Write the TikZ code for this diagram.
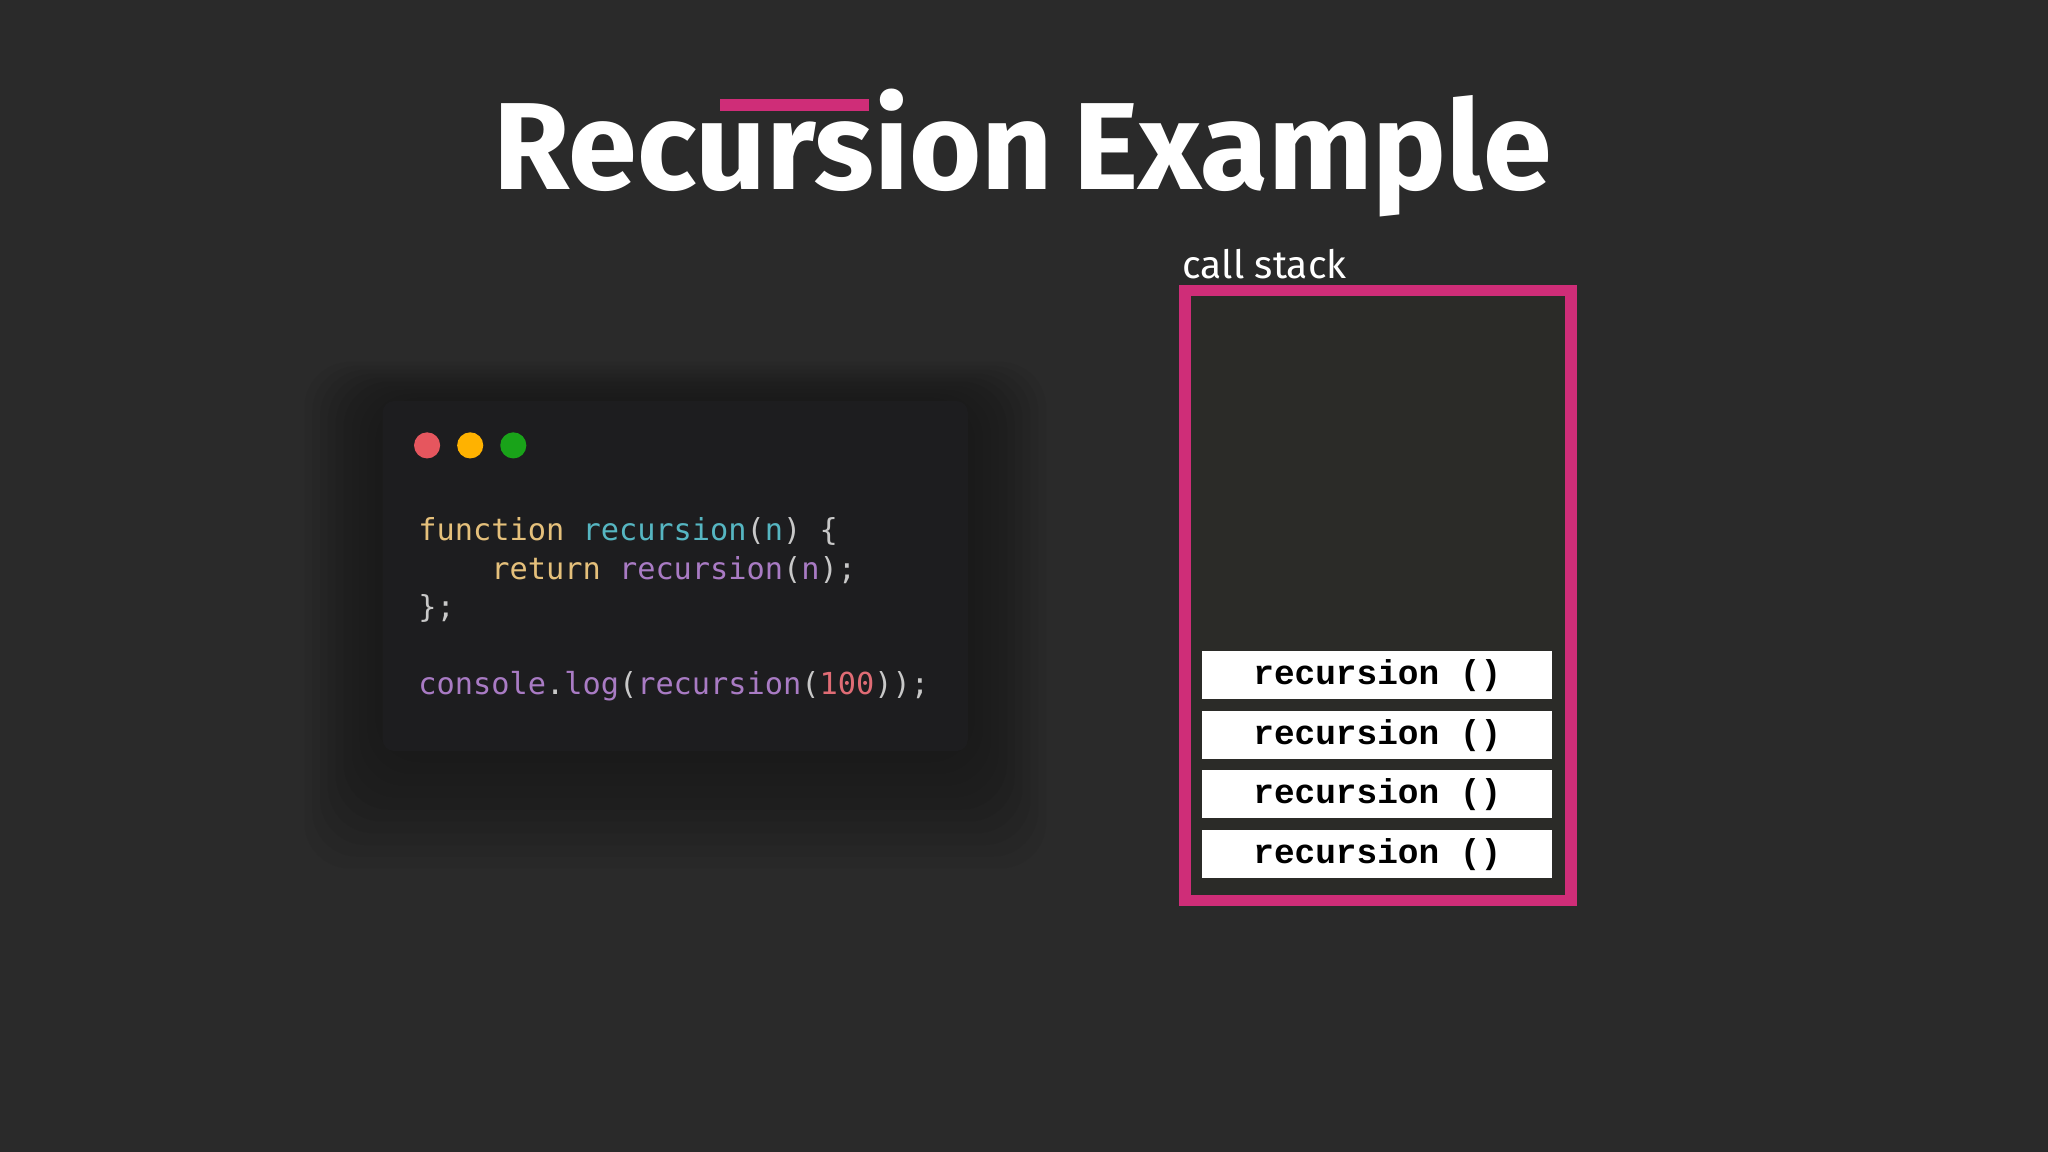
\documentclass[tikz,border=0pt]{standalone}
\usepackage{fontspec}
\setmainfont{Fira Sans}
\newfontfamily\titlefont{Fira Sans Bold}
\newfontfamily\codefont{DejaVu Sans Mono}
\newfontfamily\stackfont{Liberation Mono}
\definecolor{bg}{HTML}{2A2A2A}
\definecolor{win}{HTML}{1D1D1F}
\definecolor{pinkc}{HTML}{CF2D78}
\definecolor{stackbg}{HTML}{2B2B28}
\definecolor{cy}{HTML}{E5C07B}
\definecolor{cb}{HTML}{56B6C2}
\definecolor{cp}{HTML}{A97BC4}
\definecolor{cr}{HTML}{E06C75}
\definecolor{cg}{HTML}{C8C8C8}
\begin{document}
\begin{tikzpicture}[x=0.02cm,y=-0.02cm,
  frame/.style={draw=white,fill=white,minimum width=267*0.02cm,minimum height=36*0.02cm,inner sep=0pt,font=\stackfont\bfseries\fontsize{15}{15}\selectfont,text=black},
  codeline/.style={anchor=base west,inner sep=0pt,font=\codefont\fontsize{13.2}{16}\selectfont,text=cg},
  dot/.style={circle,minimum size=20*0.02cm,inner sep=0pt}]
\fill[bg] (0,0) rectangle (1568,882);
\useasboundingbox (0,0) rectangle (1568,882);
% title
\node[anchor=base,inner sep=0pt,text=white,font=\titlefont\fontsize{54}{54}\selectfont] (title) at (783,145) {Recursion\,Example};
\fill[pinkc] (551,76) rectangle (665,85);
% shadow
\foreach \i in {1,...,10}{\fill[black,opacity=0.03,rounded corners=20] (293-6*\i,307-3*\i) rectangle (741+6*\i,575+9*\i);}
% window
\node[fill=win,rounded corners=5,minimum width=448*0.02cm,minimum height=268*0.02cm,inner sep=0pt] (win) at (517,441) {};
\node[dot,fill=cr!80!red] (d1) at (327,341) {};
\node[dot,fill=orange!60!yellow] (d2) at (360,341) {};
\node[dot,fill=green!60!black!90] (d3) at (393,341) {};
\node[codeline] (l1) at (320,414) {\textcolor{cy}{function} \textcolor{cb}{recursion}(\textcolor{cb}{n}) \{};
\node[codeline] (l2) at (320,444) {\phantom{xxxx}\textcolor{cy}{return} \textcolor{cp}{recursion}(\textcolor{cp}{n});};
\node[codeline] (l3) at (320,473) {\};};
\node[codeline] (l4) at (320,532) {\textcolor{cp}{console}.\textcolor{cp}{log}(\textcolor{cp}{recursion}(\textcolor{cr}{100}));};
% call stack
\node[anchor=base west,inner sep=0pt,text=white,font=\fontsize{17}{17}\selectfont] (lbl) at (905,213) {call stack};
\draw[pinkc,line width=9*0.02cm,fill=stackbg] (907.5,222.5) rectangle (1202.5,689.5);
\node[frame] (f1) at (1054.5,517) {recursion ()};
\node[frame] (f2) at (1054.5,563) {recursion ()};
\node[frame] (f3) at (1054.5,608) {recursion ()};
\node[frame] (f4) at (1054.5,654) {recursion ()};
\end{tikzpicture}
\end{document}
